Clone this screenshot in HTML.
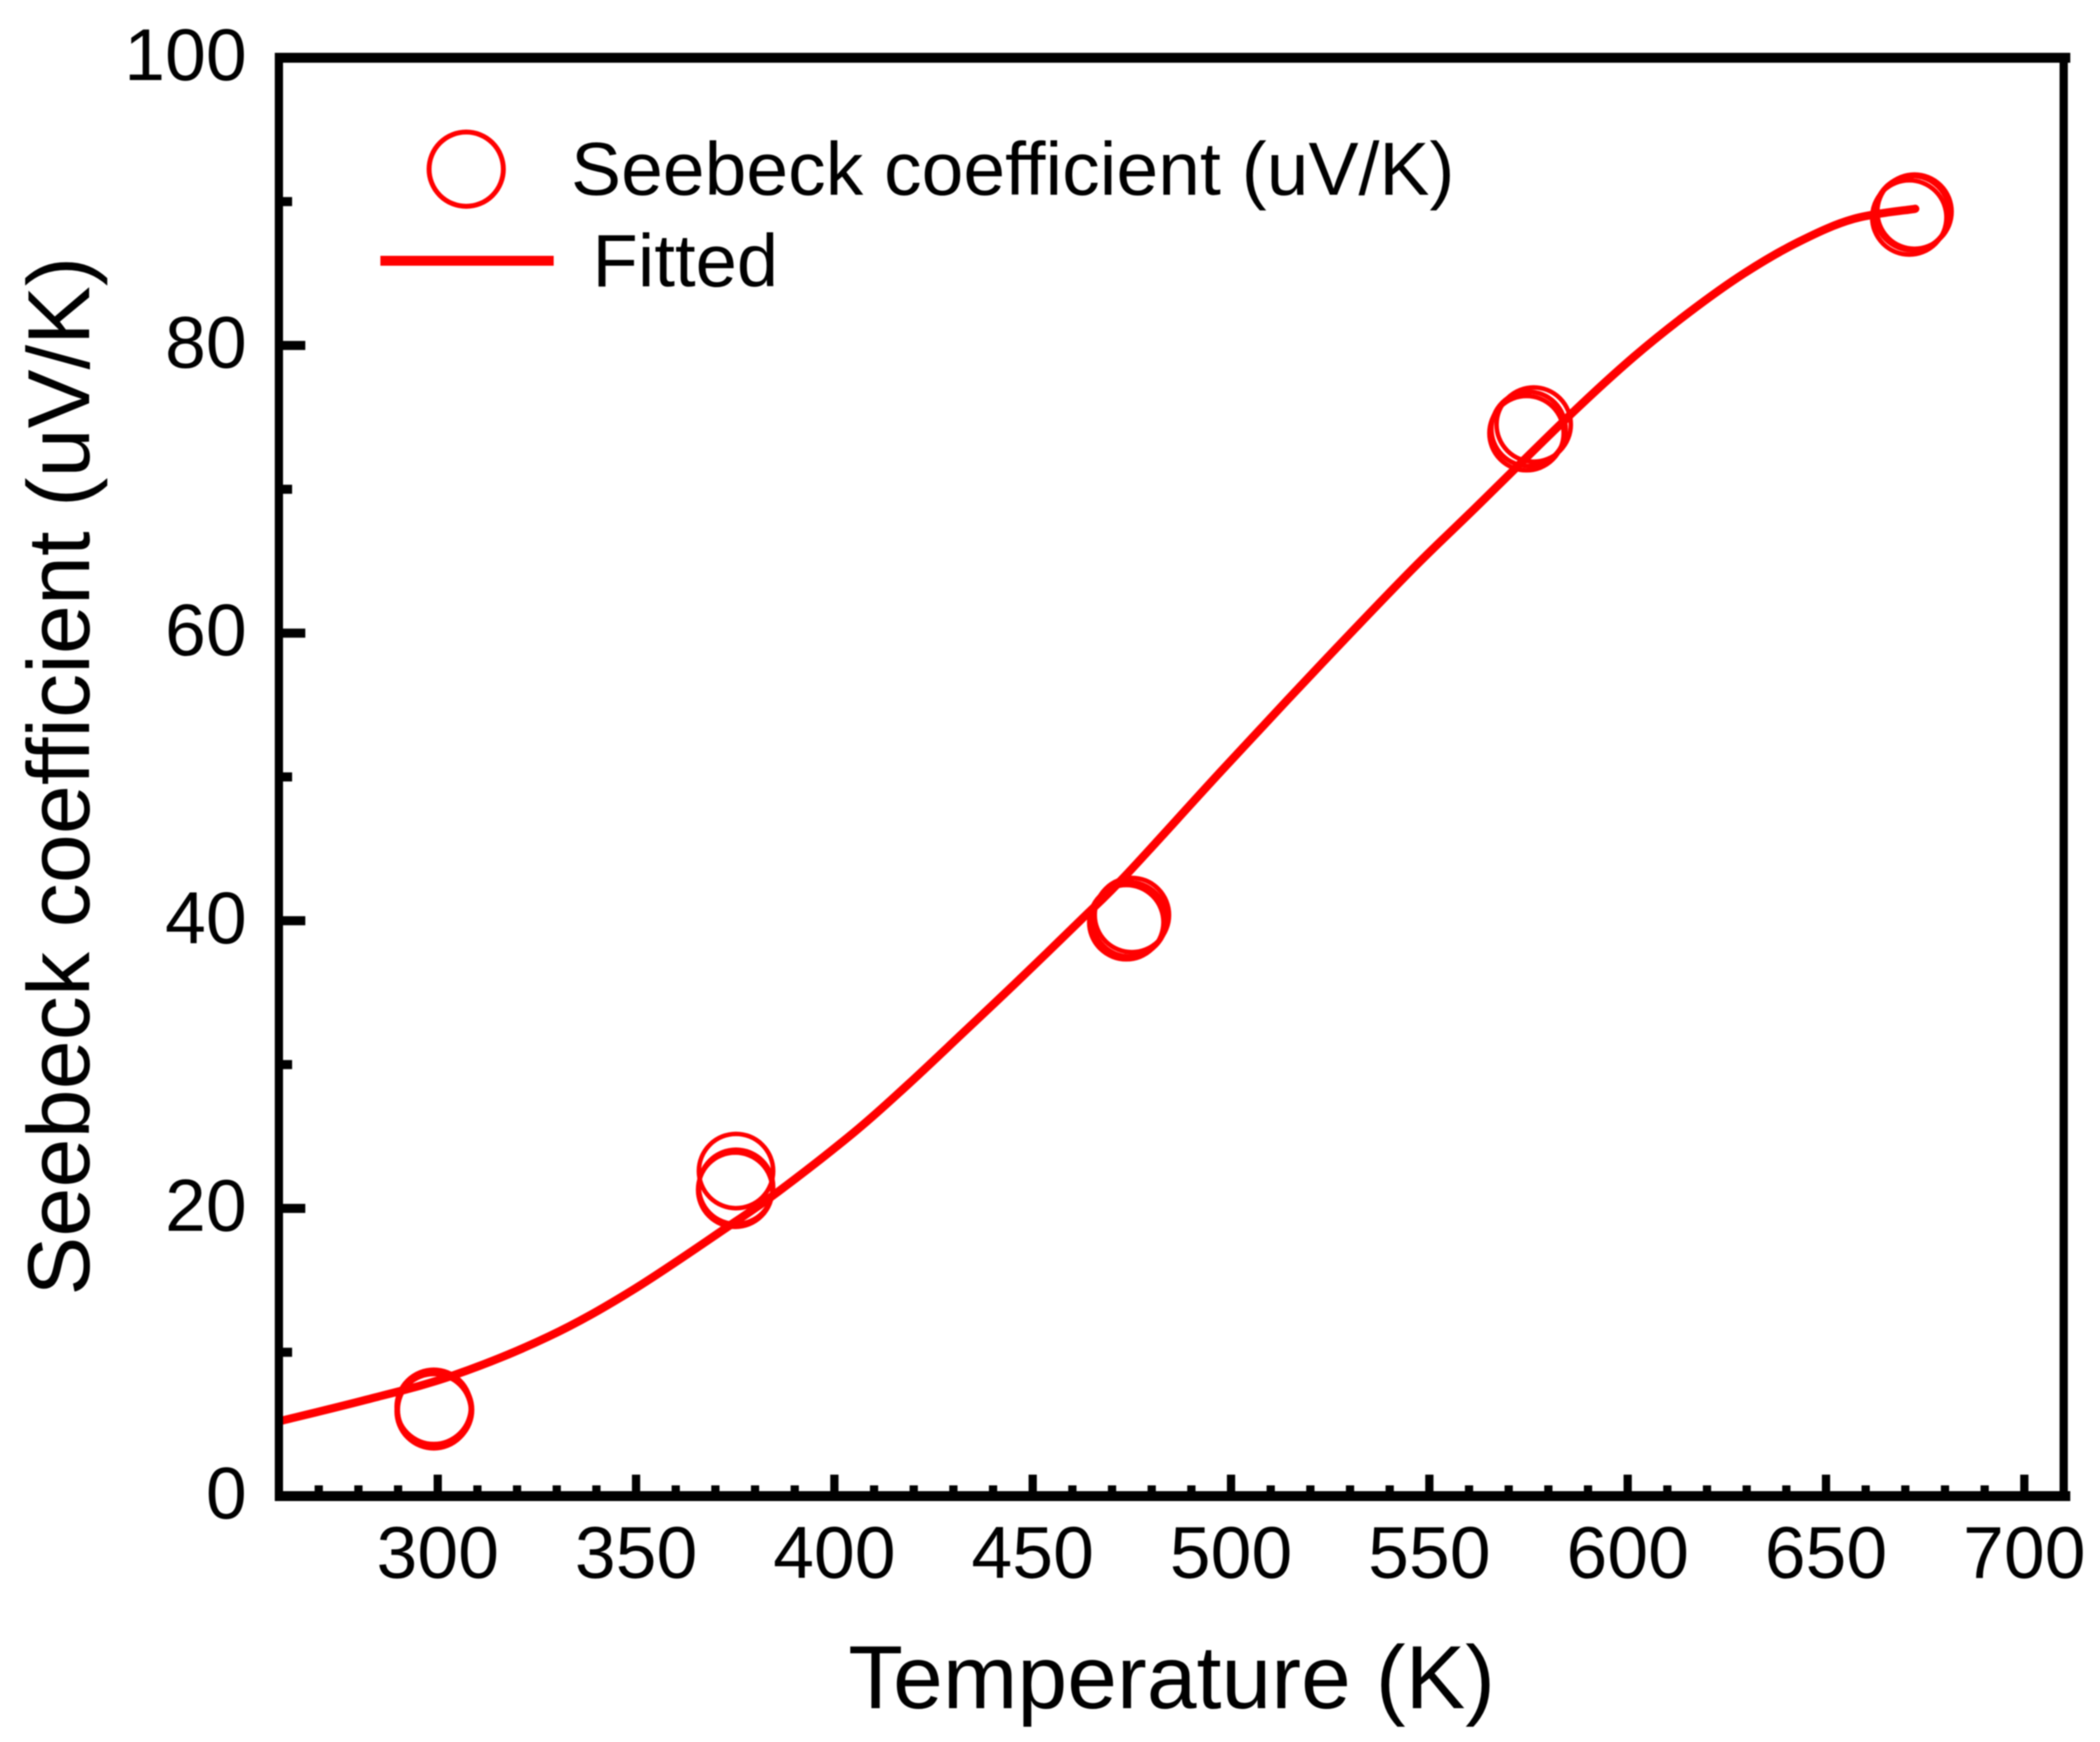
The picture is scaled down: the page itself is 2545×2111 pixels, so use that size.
<!DOCTYPE html>
<html>
<head>
<meta charset="utf-8">
<title>Seebeck coefficient vs temperature</title>
<style>
html,body{margin:0;padding:0;background:#fff;}
svg{display:block;filter:blur(0.8px);}
text{font-family:"Liberation Sans",sans-serif;fill:#000;}
</style>
</head>
<body>
<svg id="chart" xmlns="http://www.w3.org/2000/svg" width="2545" height="2111" viewBox="0 0 2545 2111">
<rect x="0" y="0" width="2545" height="2111" fill="#fff"/>
<g id="fit-layer"></g>
<g id="marker-layer"></g>
<g id="axis-layer"></g>
<text x="1028" y="2070" font-size="108.5">Temperature (K)</text>
<text transform="translate(108,1570) rotate(-90)" font-size="107">Seebeck coefficient (uV/K)</text>
<g>
<circle cx="565" cy="205" r="45" fill="none" stroke="#f00" stroke-width="6"/>
<text x="692" y="236" font-size="91">Seebeck coefficient (uV/K)</text>
<line x1="461" y1="316" x2="671" y2="316" stroke="#f00" stroke-width="12"/>
<text x="718" y="347" font-size="90">Fitted</text>
</g>
</svg>
<script>
const xMajorTicks = [300, 350, 400, 450, 500, 550, 600, 650, 700];
const xMinorTicks = [270, 280, 290, 310, 320, 330, 340, 360, 370, 380, 390, 410, 420, 430, 440, 460, 470, 480, 490, 510, 520, 530, 540, 560, 570, 580, 590, 610, 620, 630, 640, 660, 670, 680, 690];
const yMajorTicks = [0, 20, 40, 60, 80, 100];
const yMinorTicks = [10, 30, 50, 70, 90];
const fitTemps = [260, 282, 304, 328, 349, 373, 386, 405, 418.5, 432.4, 446.2, 462.3, 473.6, 497.5, 521.2, 545.2, 561.2, 586, 601.5, 615.5, 629.3, 643.1, 657, 672.5];
const fitValues = [5.2, 6.7, 8.4, 11.1, 14.3, 18.7, 21.2, 25.3, 28.6, 32.2, 35.8, 40.1, 43.2, 50.4, 57.4, 64.3, 68.6, 75.3, 79.2, 82.3, 85.0, 87.2, 88.8, 89.5];
const markerTemps = [299, 299, 299.3, 375.2, 375.2, 375, 473.6, 475, 474.4, 574.5, 576.3, 575, 671, 672.3, 671.7];
const markerValues = [5.9, 6.2, 6.0, 22.6, 21.5, 21.3, 39.9, 40.4, 40.1, 73.9, 74.5, 74.2, 88.9, 89.3, 89.2];

const NS = 'http://www.w3.org/2000/svg';
const xScale = function (t) { return 530.5 + (t - 300) * 4.807; };
const yScale = function (v) { return 1813 - v * 17.43; };
const axisLayer = document.getElementById('axis-layer');
const fitLayer = document.getElementById('fit-layer');
const markerLayer = document.getElementById('marker-layer');

function makeLine(x1, y1, x2, y2, width) {
  const el = document.createElementNS(NS, 'line');
  el.setAttribute('x1', x1);
  el.setAttribute('y1', y1);
  el.setAttribute('x2', x2);
  el.setAttribute('y2', y2);
  el.setAttribute('stroke', '#000');
  el.setAttribute('stroke-width', width);
  axisLayer.appendChild(el);
  return el;
}
function makeLabel(x, y, anchor, content) {
  const el = document.createElementNS(NS, 'text');
  el.setAttribute('x', x);
  el.setAttribute('y', y);
  el.setAttribute('text-anchor', anchor);
  el.setAttribute('font-size', '89');
  el.textContent = content;
  axisLayer.appendChild(el);
  return el;
}

const spineTop = makeLine(333, 70, 2509, 70, 12);


const spineBottom = makeLine(333, 1813, 2509, 1813, 12);


const spineLeft = makeLine(338, 64, 338, 1819, 10);


const spineRight = makeLine(2501, 64, 2501, 1819, 10);



xMajorTicks.forEach(function (t) {
  const tick = makeLine(xScale(t), 1813, xScale(t), 1787, 10);
  
  
  const label = makeLabel(xScale(t), 1912, 'middle', String(t));
  
  
});
xMinorTicks.forEach(function (t) {
  const tick = makeLine(xScale(t), 1813, xScale(t), 1800, 10);
  
  
});
yMajorTicks.forEach(function (v) {
  if (v > 0 && v < 100) {
    const tick = makeLine(338, yScale(v), 370, yScale(v), 11);
    
    
  }
  const label = makeLabel(299, yScale(v) + 27, 'end', String(v));
  
  
});
yMinorTicks.forEach(function (v) {
  const tick = makeLine(338, yScale(v), 354, yScale(v), 11);
  
  
});

const fitPoints = fitTemps.map(function (t, i) { return [xScale(t), yScale(fitValues[i])]; });
let fitPath = 'M' + fitPoints[0][0] + ' ' + fitPoints[0][1];
for (let i = 0; i < fitPoints.length - 1; i++) {
  const p0 = fitPoints[Math.max(i - 1, 0)];
  const p1 = fitPoints[i];
  const p2 = fitPoints[i + 1];
  const p3 = fitPoints[Math.min(i + 2, fitPoints.length - 1)];
  fitPath += ' C' + (p1[0] + (p2[0] - p0[0]) / 6) + ' ' + (p1[1] + (p2[1] - p0[1]) / 6) + ' ' +
    (p2[0] - (p3[0] - p1[0]) / 6) + ' ' + (p2[1] - (p3[1] - p1[1]) / 6) + ' ' + p2[0] + ' ' + p2[1];
}
const fitLine = document.createElementNS(NS, 'path');


fitLine.setAttribute('d', fitPath);
fitLine.setAttribute('fill', 'none');
fitLine.setAttribute('stroke', '#f00');
fitLine.setAttribute('stroke-width', '10');
fitLine.setAttribute('stroke-linecap', 'round');
fitLayer.appendChild(fitLine);

markerTemps.forEach(function (t, i) {
  const c = document.createElementNS(NS, 'circle');
  
  
  c.setAttribute('cx', xScale(t));
  c.setAttribute('cy', yScale(markerValues[i]));
  c.setAttribute('r', '45');
  c.setAttribute('fill', 'none');
  c.setAttribute('stroke', '#f00');
  c.setAttribute('stroke-width', '5.5');
  markerLayer.appendChild(c);
});
</script>
</body>
</html>
